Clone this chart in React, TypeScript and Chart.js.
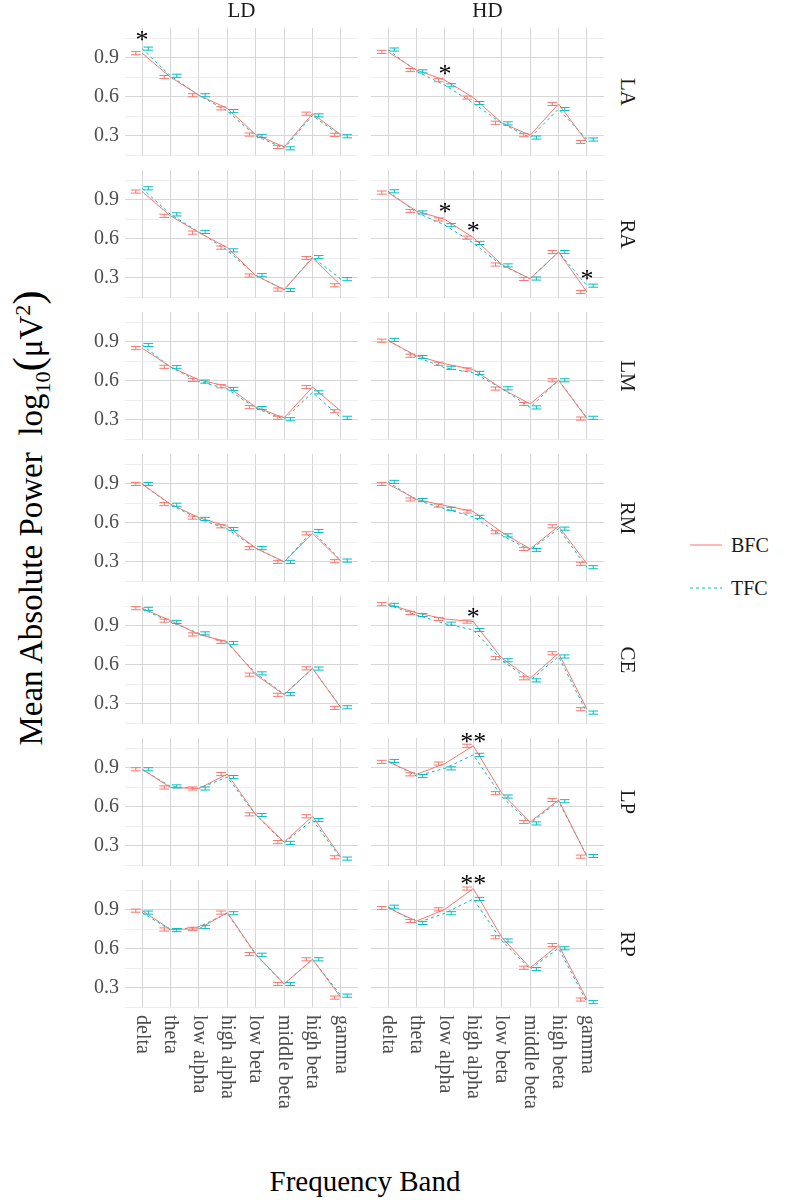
import React, { useEffect, useRef } from "react";
import { Chart, registerables } from "chart.js";

Chart.register(...registerables);

// ---------------- DATA ----------------
const CATEGORIES = ["delta", "theta", "low alpha", "high alpha", "low beta", "middle beta", "high beta", "gamma"];
const COLUMNS = ["LD", "HD"];
const ROWS = ["LA", "RA", "LM", "RM", "CE", "LP", "RP"];
const SERIES = ["BFC", "TFC"];
const Y_TICKS = [0.15, 0.3, 0.45, 0.6, 0.75, 0.9, 1.05];
const Y_TICK_LABELS = ["", "0.3", "", "0.6", "", "0.9", ""];

// mean log10 power (BFC / TFC) per region and condition
const LA_LD_BFC = [0.937, 0.753, 0.613, 0.512, 0.31, 0.215, 0.471, 0.308];
const LA_LD_TFC = [0.972, 0.763, 0.613, 0.491, 0.3, 0.204, 0.458, 0.297];
const LA_HD_BFC = [0.947, 0.807, 0.729, 0.595, 0.401, 0.305, 0.546, 0.253];
const LA_HD_TFC = [0.965, 0.797, 0.69, 0.553, 0.396, 0.287, 0.507, 0.272];

const RA_LD_BFC = [0.965, 0.778, 0.649, 0.533, 0.318, 0.21, 0.453, 0.243];
const RA_LD_TFC = [0.99, 0.789, 0.654, 0.512, 0.321, 0.207, 0.46, 0.29];
const RA_HD_BFC = [0.957, 0.815, 0.75, 0.61, 0.403, 0.292, 0.499, 0.191];
const RA_HD_TFC = [0.967, 0.804, 0.706, 0.569, 0.396, 0.295, 0.499, 0.24];

const LM_LD_BFC = [0.853, 0.709, 0.608, 0.559, 0.398, 0.316, 0.553, 0.367];
const LM_LD_TFC = [0.877, 0.706, 0.595, 0.538, 0.391, 0.305, 0.512, 0.316];
const LM_HD_BFC = [0.91, 0.794, 0.732, 0.688, 0.541, 0.422, 0.605, 0.31];
const LM_HD_TFC = [0.916, 0.784, 0.701, 0.662, 0.543, 0.396, 0.605, 0.316];

const RM_LD_BFC = [0.9, 0.745, 0.641, 0.574, 0.406, 0.3, 0.52, 0.305];
const RM_LD_TFC = [0.9, 0.74, 0.631, 0.553, 0.406, 0.3, 0.538, 0.31];
const RM_HD_BFC = [0.9, 0.781, 0.734, 0.688, 0.528, 0.4, 0.574, 0.285];
const RM_HD_TFC = [0.916, 0.776, 0.709, 0.647, 0.504, 0.391, 0.556, 0.259];

const CE_LD_BFC = [1.037, 0.941, 0.835, 0.778, 0.525, 0.37, 0.574, 0.269];
const CE_LD_TFC = [1.032, 0.931, 0.843, 0.768, 0.535, 0.375, 0.572, 0.274];
const CE_HD_BFC = [1.068, 1.001, 0.954, 0.934, 0.652, 0.497, 0.69, 0.259];
const CE_HD_TFC = [1.063, 0.985, 0.918, 0.869, 0.636, 0.481, 0.665, 0.233];

const LP_LD_BFC = [0.89, 0.75, 0.742, 0.853, 0.543, 0.329, 0.528, 0.212];
const LP_LD_TFC = [0.89, 0.758, 0.742, 0.83, 0.538, 0.323, 0.499, 0.202];
const LP_HD_BFC = [0.947, 0.851, 0.934, 1.071, 0.706, 0.484, 0.654, 0.217];
const LP_HD_TFC = [0.954, 0.838, 0.897, 1.001, 0.68, 0.473, 0.644, 0.222];

const RP_LD_BFC = [0.895, 0.75, 0.755, 0.88, 0.56, 0.33, 0.52, 0.225];
const RP_LD_TFC = [0.88, 0.745, 0.77, 0.875, 0.555, 0.33, 0.52, 0.24];
const RP_HD_BFC = [0.915, 0.815, 0.905, 1.065, 0.69, 0.455, 0.63, 0.21];
const RP_HD_TFC = [0.925, 0.8, 0.875, 0.985, 0.665, 0.445, 0.605, 0.19];

// standard errors (read from error-bar heights)
const BFC_SE = [0.012, 0.012, 0.012, 0.012, 0.012, 0.012, 0.012, 0.012];
const TFC_SE = [0.012, 0.012, 0.012, 0.012, 0.012, 0.012, 0.012, 0.012];

// significance markers: [row, column, band, y, text]
const STARS: [string, string, string, number, string][] = [
  ["LA", "LD", "delta", 1.08, "*"],
  ["LA", "HD", "low alpha", 0.815, "*"],
  ["RA", "HD", "low alpha", 0.848, "*"],
  ["RA", "HD", "high alpha", 0.703, "*"],
  ["RA", "HD", "gamma", 0.331, "*"],
  ["CE", "HD", "high alpha", 1.011, "*"],
  ["LP", "HD", "high alpha", 1.14, "**"],
  ["RP", "HD", "high alpha", 1.14, "**"],
];

const MEANS: Record<string, number[][]> = {
  LA_LD: [LA_LD_BFC, LA_LD_TFC], LA_HD: [LA_HD_BFC, LA_HD_TFC],
  RA_LD: [RA_LD_BFC, RA_LD_TFC], RA_HD: [RA_HD_BFC, RA_HD_TFC],
  LM_LD: [LM_LD_BFC, LM_LD_TFC], LM_HD: [LM_HD_BFC, LM_HD_TFC],
  RM_LD: [RM_LD_BFC, RM_LD_TFC], RM_HD: [RM_HD_BFC, RM_HD_TFC],
  CE_LD: [CE_LD_BFC, CE_LD_TFC], CE_HD: [CE_HD_BFC, CE_HD_TFC],
  LP_LD: [LP_LD_BFC, LP_LD_TFC], LP_HD: [LP_HD_BFC, LP_HD_TFC],
  RP_LD: [RP_LD_BFC, RP_LD_TFC], RP_HD: [RP_HD_BFC, RP_HD_TFC],
};
const SES = [BFC_SE, TFC_SE];

// ---------------- STYLE / LAYOUT ----------------
const COLORS = ["#F8766D", "#00BFC4"];
const DASHES: number[][] = [[], [3, 3]];
const FONT = "'Liberation Serif', 'Times New Roman', serif";
const Y_MIN = 0.145;
const Y_MAX = 1.131;
const X_MIN = 0.4;
const X_MAX = 8.6;
const DODGE = [-0.22, 0.22];
const CAP = 0.17;

const PANEL_W = 233;
const PANEL_H = 128;
const COL_LEFT = [125, 371];
const ROW_TOP0 = 28;
const ROW_STEP = 142;
const PAD_TOP = 16;
const Y_AXIS_W = 50;
const X_AXIS_H = 150;

const errorBarPlugin = {
  id: "errorBars",
  afterDatasetsDraw(chart: any) {
    const { ctx } = chart;
    const xs = chart.scales.x;
    const ys = chart.scales.y;
    const ses: number[][] = chart.options.plugins.errorBars.ses;
    chart.data.datasets.forEach((ds: any, di: number) => {
      ctx.save();
      ctx.strokeStyle = COLORS[di];
      ctx.lineWidth = 1;
      ds.data.forEach((p: any, i: number) => {
        const se = ses[di][i];
        const xc = xs.getPixelForValue(p.x + DODGE[di]);
        const xl = xs.getPixelForValue(p.x + DODGE[di] - CAP);
        const xr = xs.getPixelForValue(p.x + DODGE[di] + CAP);
        const yt = ys.getPixelForValue(p.y + se);
        const yb = ys.getPixelForValue(p.y - se);
        ctx.beginPath();
        ctx.moveTo(xl, yt); ctx.lineTo(xr, yt);
        ctx.moveTo(xl, yb); ctx.lineTo(xr, yb);
        ctx.moveTo(xc, yt); ctx.lineTo(xc, yb);
        ctx.stroke();
      });
      ctx.restore();
    });
  },
};

const starPlugin = {
  id: "stars",
  afterDraw(chart: any) {
    const { ctx } = chart;
    const xs = chart.scales.x;
    const ys = chart.scales.y;
    const marks = chart.options.plugins.stars.marks as [string, string, string, number, string][];
    ctx.save();
    ctx.fillStyle = "#000000";
    ctx.font = `26px ${FONT}`;
    ctx.textAlign = "center";
    ctx.textBaseline = "alphabetic";
    marks.forEach((m) => {
      const xi = CATEGORIES.indexOf(m[2]) + 1;
      ctx.fillText(m[4], xs.getPixelForValue(xi), ys.getPixelForValue(m[3]) + 13);
    });
    ctx.restore();
  },
};

const xLabelPlugin = {
  id: "xLabels",
  afterDraw(chart: any) {
    if (!chart.options.plugins.xLabels.show) return;
    const { ctx, chartArea } = chart;
    const xs = chart.scales.x;
    ctx.save();
    ctx.fillStyle = "#4D4D4D";
    ctx.font = `20px ${FONT}`;
    ctx.textAlign = "left";
    ctx.textBaseline = "middle";
    CATEGORIES.forEach((c, i) => {
      ctx.save();
      ctx.translate(xs.getPixelForValue(i + 1), chartArea.bottom + 7);
      ctx.rotate(Math.PI / 2);
      ctx.fillText(c, 0, 0);
      ctx.restore();
    });
    ctx.restore();
  },
};

function Panel({ row, col, ri, ci }: { row: string; col: string; ri: number; ci: number }) {
  const ref = useRef<HTMLCanvasElement>(null);
  const showY = ci === 0;
  const showX = ri === ROWS.length - 1;
  const yW = showY ? Y_AXIS_W : 0;
  const xH = showX ? X_AXIS_H : 0;
  const cw = PANEL_W + yW;
  const chh = PAD_TOP + PANEL_H + xH;
  const left = COL_LEFT[ci] - yW;
  const top = ROW_TOP0 + ROW_STEP * ri - PAD_TOP;

  useEffect(() => {
    const means = MEANS[`${row}_${col}`];
    const marks = STARS.filter((s) => s[0] === row && s[1] === col);
    const chart = new Chart(ref.current as HTMLCanvasElement, {
      type: "line",
      data: {
        datasets: SERIES.map((s, si) => ({
          label: s,
          data: means[si].map((y, i) => ({ x: i + 1, y })),
          borderColor: COLORS[si],
          borderWidth: 1,
          borderDash: DASHES[si],
          pointRadius: 0,
          fill: false,
          tension: 0,
          clip: false as any,
        })),
      },
      options: {
        animation: false,
        responsive: false,
        events: [],
        layout: { padding: { top: PAD_TOP, left: 0, right: 0, bottom: 0 } },
        plugins: {
          legend: { display: false },
          tooltip: { enabled: false },
          errorBars: { ses: SES },
          stars: { marks },
          xLabels: { show: showX },
        } as any,
        scales: {
          x: {
            type: "linear",
            min: X_MIN,
            max: X_MAX,
            afterBuildTicks: (s: any) => {
              s.ticks = CATEGORIES.map((_, i) => ({ value: i + 1 }));
            },
            afterFit: (s: any) => {
              s.height = xH;
              s.paddingLeft = 0;
              s.paddingRight = 0;
            },
            ticks: { display: false },
            grid: { color: "#D6D6D6", lineWidth: 1, drawTicks: false },
            border: { display: false },
          },
          y: {
            type: "linear",
            min: Y_MIN,
            max: Y_MAX,
            afterBuildTicks: (s: any) => {
              s.ticks = Y_TICKS.map((v) => ({ value: v }));
            },
            afterFit: (s: any) => {
              s.width = yW;
              s.paddingTop = 0;
              s.paddingBottom = 0;
            },
            ticks: {
              display: showY,
              padding: 6,
              color: "#4D4D4D",
              font: { family: FONT, size: 20 },
              autoSkip: false,
              callback: (_v: any, idx: number) => Y_TICK_LABELS[idx],
            },
            grid: {
              color: (c: any) => (Y_TICK_LABELS[c.index] ? "#D6D6D6" : "#E6E6E6"),
              lineWidth: (c: any) => (Y_TICK_LABELS[c.index] ? 1 : 0.7),
              drawTicks: false,
            },
            border: { display: false },
          },
        },
      },
      plugins: [errorBarPlugin, starPlugin, xLabelPlugin],
    });
    return () => chart.destroy();
  }, []);

  return (
    <canvas
      ref={ref}
      width={cw}
      height={chh}
      style={{ position: "absolute", left, top, width: cw, height: chh }}
    />
  );
}

export default function App() {
  const text: React.CSSProperties = { position: "absolute", fontFamily: FONT, whiteSpace: "nowrap", lineHeight: 1 };
  return (
    <div style={{ position: "absolute", left: 0, top: 0, width: 786, height: 1200, background: "#FFFFFF" }}>
      {ROWS.map((r, ri) =>
        COLUMNS.map((c, ci) => <Panel key={`${r}_${c}`} row={r} col={c} ri={ri} ci={ci} />)
      )}
      {COLUMNS.map((c, ci) => (
        <div
          key={c}
          style={{ ...text, left: COL_LEFT[ci] + PANEL_W / 2, top: 10, transform: "translate(-50%, -50%)", fontSize: 21, color: "#1A1A1A" }}
        >
          {c}
        </div>
      ))}
      {ROWS.map((r, ri) => (
        <div
          key={r}
          style={{
            ...text,
            left: 627,
            top: ROW_TOP0 + ROW_STEP * ri + PANEL_H / 2,
            transform: "translate(-50%, -50%) rotate(90deg)",
            fontSize: 21,
            color: "#1A1A1A",
          }}
        >
          {r}
        </div>
      ))}
      <div style={{ ...text, left: 365, top: 1181, transform: "translate(-50%, -50%)", fontSize: 29, color: "#000" }}>
        Frequency Band
      </div>
      <div
        style={{
          ...text,
          left: 30,
          top: 518,
          transform: "translate(-50%, -50%) rotate(-90deg)",
          fontSize: 33,
          color: "#000",
        }}
      >
        Mean Absolute Power&nbsp;&nbsp;log<sub style={{ fontSize: 22 }}>10</sub>
        <span style={{ fontSize: 43 }}>(</span>μV<sup style={{ fontSize: 22 }}>2</sup>
        <span style={{ fontSize: 43 }}>)</span>
      </div>
      <svg style={{ position: "absolute", left: 686, top: 530 }} width={40} height={80}>
        <line x1={4} y1={15} x2={36} y2={15} stroke={COLORS[0]} strokeWidth={1} />
        <line x1={4} y1={58} x2={36} y2={58} stroke={COLORS[1]} strokeWidth={1} strokeDasharray="3 3" />
      </svg>
      {SERIES.map((s, si) => (
        <div key={s} style={{ ...text, left: 731, top: 545 + si * 43, transform: "translateY(-50%)", fontSize: 20, color: "#1A1A1A" }}>
          {s}
        </div>
      ))}
    </div>
  );
}
